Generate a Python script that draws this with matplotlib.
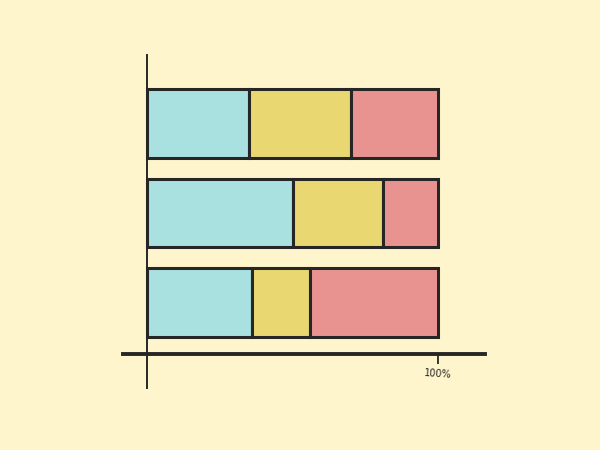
import matplotlib
matplotlib.use("Agg")
import matplotlib.pyplot as plt
import numpy as np

# shares of each bar, bottom bar first
rows = [0, 1, 2]
part_a = [0.36, 0.50, 0.35]
part_b = [0.20, 0.31, 0.35]
part_c = [0.44, 0.19, 0.30]

COLORS = ["#A9E1E1", "#E9D872", "#E99391"]
BG = "#FFF5CC"
INK = "#262626"

fig = plt.figure(figsize=(6, 4.5), dpi=100, facecolor=BG)
ax = fig.add_axes([123 / 600, 1 - 388 / 450, (485 - 123) / 600, (388 - 55) / 450])
ax.set_facecolor(BG)

left = np.zeros(len(rows))
for vals, color in zip([part_a, part_b, part_c], COLORS):
    ax.barh(rows, vals, left=left, height=0.77, color=color,
            edgecolor=INK, linewidth=2.2, zorder=3)
    left += np.array(vals)

ax.set_xlim(-24 / 291, 338 / 291)
ax.set_ylim(-0.955, 2.765)

for side in ["top", "right"]:
    ax.spines[side].set_visible(False)
ax.spines["left"].set_position(("data", 0))
ax.spines["left"].set_linewidth(1.4)
ax.spines["left"].set_color(INK)
ax.spines["bottom"].set_position(("data", -0.575))
ax.spines["bottom"].set_linewidth(2.8)
ax.spines["bottom"].set_color(INK)

ax.set_yticks([])
ax.set_xticks([1])
ax.set_xticklabels(["100%"], fontsize=7, rotation=-4)
ax.tick_params(axis="x", direction="out", length=7, width=1.3, color=INK,
               labelcolor=INK, pad=3)

fig.savefig("out.png", dpi=100, facecolor=BG)
